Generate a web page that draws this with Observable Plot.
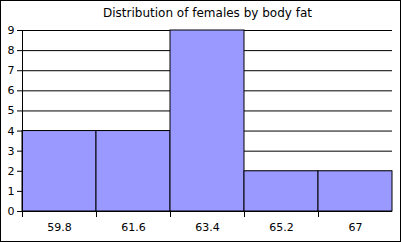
<!DOCTYPE html>
<html>
<head>
<meta charset="utf-8">
<script src="https://cdn.jsdelivr.net/npm/d3@7"></script>
<script src="https://cdn.jsdelivr.net/npm/@observablehq/plot@0.6"></script>
<style>
  html, body { margin: 0; padding: 0; background: #fff; }
  #chart { position: relative; width: 401px; height: 242px; }
  #chart svg { display: block; }
  #frame { position: absolute; left: 0; top: 0; width: 399px; height: 240px; border: 1px solid #000; pointer-events: none; }
</style>
</head>
<body>
<div id="chart"><div id="frame"></div></div>
<script>
const title = "Distribution of females by body fat";
const categories = ["59.8", "61.6", "63.4", "65.2", "67"];
const counts = [4, 4, 9, 2, 2];
const yTicks = [0, 1, 2, 3, 4, 5, 6, 7, 8, 9];

const data = categories.map((c, i) => ({ i, label: c, count: counts[i] }));
const font = "DejaVu Sans, Verdana, sans-serif";

const chart = Plot.plot({
  width: 401,
  height: 242,
  marginLeft: 22,
  marginRight: 9,
  marginTop: 30,
  marginBottom: 31,
  style: { fontFamily: font, fontSize: "11px", color: "#000", background: "transparent" },
  x: { type: "linear", domain: [0, categories.length] },
  y: { domain: [0, 9] },
  marks: [
    Plot.ruleY(yTicks.filter(v => v > 0), { stroke: "#000", strokeWidth: 1 }),
    Plot.rectY(data, { x1: d => d.i, x2: d => d.i + 1, y1: 0, y2: "count", fill: "#9999FF", stroke: "#000", strokeWidth: 1 }),
    Plot.ruleX([0], { stroke: "#000" }),
    Plot.ruleY([0], { stroke: "#000" }),
    Plot.axisY({ ticks: yTicks, tickSize: 5, tickPadding: 3, tickFormat: d => String(d), label: null, fill: "#000", stroke: "#000" }),
    Plot.axisX({ ticks: d3.range(categories.length), tickSize: 6, tickFormat: () => "", label: null, stroke: "#000" }),
    Plot.axisX({ ticks: data.map(d => d.i + 0.5), tickSize: 0, tickPadding: 12, tickFormat: v => categories[Math.floor(v)], label: null, fill: "#000" }),
    Plot.text([title], { frameAnchor: "top", dy: -22, text: d => d, fontSize: 12, fill: "#000" })
  ]
});
document.getElementById("chart").prepend(chart);
</script>
</body>
</html>
